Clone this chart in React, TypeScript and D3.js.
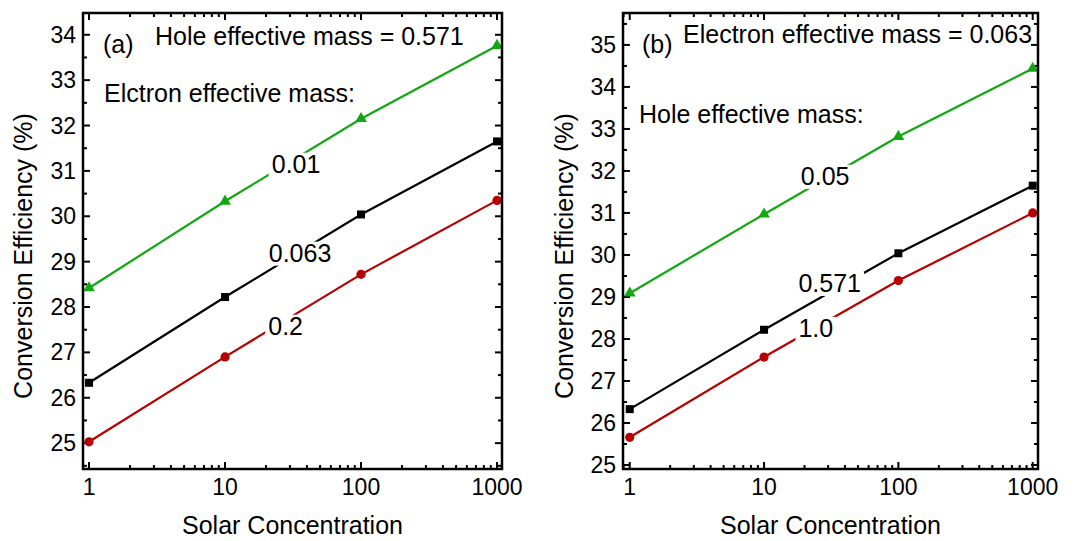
import React, { useEffect, useRef } from 'react'
import * as d3 from 'd3'

// solar concentration (suns)
const concentration = [1, 10, 100, 1000]

// panel (a): hole effective mass fixed at 0.571
const effA_e001 = [28.42, 30.33, 32.15, 33.76]
const effA_e0063 = [26.33, 28.22, 30.04, 31.65]
const effA_e02 = [25.03, 26.9, 28.72, 30.35]

// panel (b): electron effective mass fixed at 0.063
const effB_h005 = [29.09, 30.97, 32.82, 34.44]
const effB_h0571 = [26.33, 28.22, 30.04, 31.65]
const effB_h10 = [25.66, 27.57, 29.39, 31.0]

const xTickLabels = ['1', '10', '100', '1000']

const GREEN = '#12a812'
const RED = '#b80000'
const BLACK = '#000000'
const FONT = 'Liberation Sans, Arial, Helvetica, sans-serif'

const panels = [
  {
    left: 83,
    right: 502,
    xDomain: [0.903, 1088],
    yDomain: [24.43, 34.48],
    yTicks: d3.range(25, 35),
    tag: '(a)',
    tagPos: [20, 40],
    title: 'Hole effective mass = 0.571',
    titlePos: [72, 32],
    sub: 'Elctron effective mass:',
    subPos: [21, 89],
    yTitleX: 32,
    series: [
      { values: effA_e001, color: GREEN, marker: 'triangle', label: '0.01', at: [33.3, 30.96] },
      { values: effA_e0063, color: BLACK, marker: 'square', label: '0.063', at: [35.6, 29.0] },
      { values: effA_e02, color: RED, marker: 'circle', label: '0.2', at: [27.9, 27.39] },
    ],
  },
  {
    left: 623,
    right: 1038,
    xDomain: [0.891, 1095],
    yDomain: [24.905, 35.76],
    yTicks: d3.range(25, 36),
    tag: '(b)',
    tagPos: [19, 40],
    title: 'Electron effective mass = 0.063',
    titlePos: [60, 30],
    sub: 'Hole effective mass:',
    subPos: [16, 110],
    yTitleX: 573,
    series: [
      { values: effB_h005, color: GREEN, marker: 'triangle', label: '0.05', at: [28.5, 31.67] },
      { values: effB_h0571, color: BLACK, marker: 'square', label: '0.571', at: [30.8, 29.12] },
      { values: effB_h10, color: RED, marker: 'circle', label: '1.0', at: [24.3, 28.05] },
    ],
  },
]

const W = 1088
const H = 541
const TOP = 13
const BOTTOM = 469

const App = () => {
  const svgRef = useRef<SVGSVGElement | null>(null)

  useEffect(() => {
    const svg = d3.select(svgRef.current)
    svg.selectAll('*').remove()

    panels.forEach((p) => {
      const x = d3.scaleLog().domain(p.xDomain).range([p.left, p.right])
      const y = d3.scaleLinear().domain(p.yDomain).range([BOTTOM, TOP])
      const g = svg.append('g')

      // ticks, inward on all four sides
      const ticks = g.append('g').attr('stroke', '#000').attr('stroke-width', 2)
      const xt = x.ticks().filter((v) => v >= p.xDomain[0] && v <= p.xDomain[1])
      xt.forEach((v) => {
        const major = Math.abs(Math.log10(v) - Math.round(Math.log10(v))) < 1e-9
        const len = major ? 7 : 4
        ticks.append('line').attr('x1', x(v)).attr('x2', x(v)).attr('y1', BOTTOM).attr('y2', BOTTOM - len)
        ticks.append('line').attr('x1', x(v)).attr('x2', x(v)).attr('y1', TOP).attr('y2', TOP + len)
      })
      const yt = d3.range(p.yTicks[0] - 0.5, p.yTicks[p.yTicks.length - 1] + 1, 0.5)
        .filter((v) => v >= p.yDomain[0] && v <= p.yDomain[1])
      yt.forEach((v) => {
        const len = Number.isInteger(v) ? 7 : 4
        ticks.append('line').attr('x1', p.left).attr('x2', p.left + len).attr('y1', y(v)).attr('y2', y(v))
        ticks.append('line').attr('x1', p.right).attr('x2', p.right - len).attr('y1', y(v)).attr('y2', y(v))
      })

      // tick labels
      g.append('g')
        .selectAll('text')
        .data(concentration)
        .join('text')
        .attr('x', (d) => x(d))
        .attr('y', 495)
        .attr('text-anchor', 'middle')
        .style('font-family', FONT)
        .style('font-size', '23px')
        .text((d, i) => xTickLabels[i])

      g.append('g')
        .selectAll('text')
        .data(p.yTicks)
        .join('text')
        .attr('x', p.left - 7)
        .attr('y', (d) => y(d))
        .attr('dy', '0.35em')
        .attr('text-anchor', 'end')
        .style('font-family', FONT)
        .style('font-size', '23px')
        .text((d) => d)

      // series
      const line = d3
        .line<number>()
        .x((d, i) => x(concentration[i]))
        .y((d) => y(d))

      p.series.forEach((s) => {
        g.append('path')
          .attr('d', line(s.values))
          .attr('fill', 'none')
          .attr('stroke', s.color)
          .attr('stroke-width', 2.2)

        const m = g.append('g').attr('fill', s.color)
        s.values.forEach((v, i) => {
          const cx = x(concentration[i])
          const cy = y(v)
          if (s.marker === 'circle') {
            m.append('circle').attr('cx', cx).attr('cy', cy).attr('r', 4.6)
          } else if (s.marker === 'square') {
            m.append('rect').attr('x', cx - 4).attr('y', cy - 4).attr('width', 8).attr('height', 8)
          } else {
            m.append('path').attr('d', d3.symbol(d3.symbolTriangle, 60)()).attr('transform', `translate(${cx},${cy})`)
          }
        })
      })

      // series labels with white boxes cutting the lines
      p.series.forEach((s) => {
        const lg = g.append('g')
        const t = lg
          .append('text')
          .attr('x', x(s.at[0]))
          .attr('y', y(s.at[1]))
          .attr('text-anchor', 'middle')
          .style('font-family', FONT)
          .style('font-size', '25px')
          .text(s.label)
        const bb = (t.node() as SVGTextElement).getBBox()
        lg.insert('rect', 'text')
          .attr('x', bb.x - 3)
          .attr('y', bb.y + 3)
          .attr('width', bb.width + 6)
          .attr('height', bb.height - 4)
          .attr('fill', '#fff')
      })

      // frame
      g.append('rect')
        .attr('x', p.left)
        .attr('y', TOP)
        .attr('width', p.right - p.left)
        .attr('height', BOTTOM - TOP)
        .attr('fill', 'none')
        .attr('stroke', '#000')
        .attr('stroke-width', 2.5)

      // annotations
      const ann = [
        [p.tag, p.tagPos],
        [p.title, p.titlePos],
        [p.sub, p.subPos],
      ] as [string, number[]][]
      ann.forEach(([txt, pos]) => {
        g.append('text')
          .attr('x', p.left + pos[0])
          .attr('y', TOP + pos[1])
          .style('font-family', FONT)
          .style('font-size', '25px')
          .text(txt)
      })

      // axis titles
      g.append('text')
        .attr('x', (p.left + p.right) / 2)
        .attr('y', 534)
        .attr('text-anchor', 'middle')
        .style('font-family', FONT)
        .style('font-size', '25px')
        .text('Solar Concentration')

      g.append('text')
        .attr('transform', `translate(${p.yTitleX},256) rotate(-90)`)
        .attr('text-anchor', 'middle')
        .style('font-family', FONT)
        .style('font-size', '25px')
        .text('Conversion Efficiency (%)')
    })
  }, [])

  return (
    <svg
      ref={svgRef}
      width={W}
      height={H}
      viewBox={`0 0 ${W} ${H}`}
      style={{ position: 'absolute', left: 0, top: 0, background: '#fff' }}
    ></svg>
  )
}

export default App
